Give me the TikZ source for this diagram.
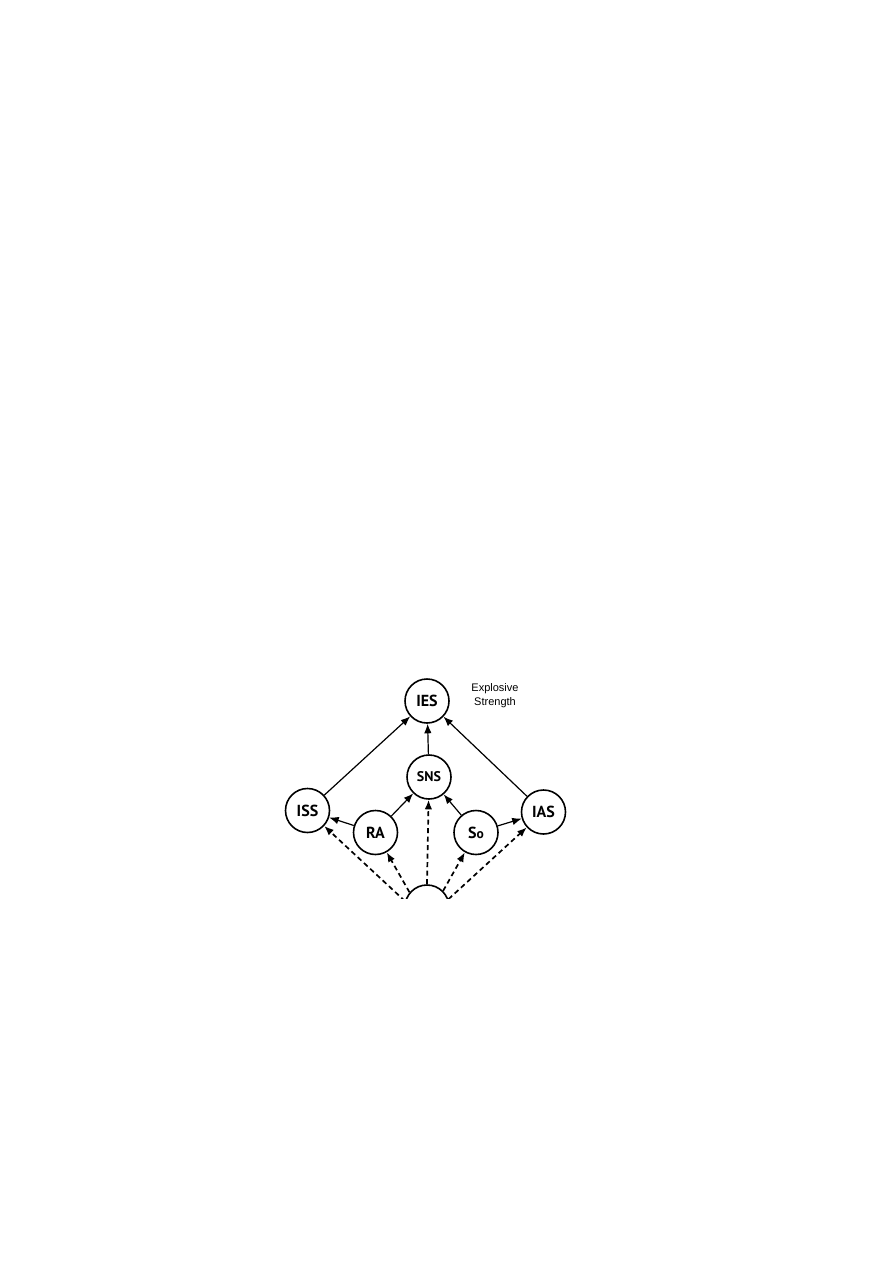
\documentclass[tikz,border=0pt]{standalone}
\usepackage{fontspec}
\newfontfamily\labfont{PT Sans}
\newfontfamily\expfont{Liberation Sans}
\usetikzlibrary{arrows.meta}
\begin{document}
\begin{tikzpicture}[x=1pt,y=-1pt,
  circ/.style={circle,draw,line width=1.6pt,minimum size=44pt,inner sep=0pt,font=\labfont\bfseries\fontsize{16}{18}\selectfont},
  solidarr/.style={line width=1.2pt,-{Latex[length=9.5pt,width=7.5pt]}},
  dasharr/.style={line width=1.7pt,dash pattern=on 5pt off 3.5pt,-{Latex[length=9.5pt,width=7.5pt]}}]
\useasboundingbox (0,0) rectangle (893,1263);
\begin{scope}
\clip (270,660) rectangle (590,898);
\node[circ] (IES) at (427,701) {IES};
\node[circ,font=\labfont\bfseries\fontsize{14}{16}\selectfont] (SNS) at (429,777) {SNS};
\node[circ] (ISS) at (307.5,810.5) {ISS};
\node[circ] (RA) at (375.5,832.5) {RA};
\node[circ] (So) at (476,832.5) {S\fontsize{13.5}{16}\selectfont o};
\node[circ] (IAS) at (543.5,812) {IAS};
\node[circ] (B) at (427,907) {};
\node[font=\expfont\fontsize{11}{14}\selectfont,align=center] (lab) at (495,696) {Explosive\\Strength};
\draw[solidarr] (ISS) -- (IES);
\draw[solidarr] (SNS) -- (IES);
\draw[solidarr] (IAS) -- (IES);
\draw[solidarr] (RA) -- (SNS);
\draw[solidarr] (So) -- (SNS);
\draw[solidarr] (RA) -- (ISS);
\draw[solidarr] (So) -- (IAS);
\draw[dasharr] (B.165) -- (ISS);
\draw[dasharr] (B.140) -- (RA);
\draw[dasharr] (B.90) -- (SNS);
\draw[dasharr] (B.45) -- (So);
\draw[dasharr] (B.20) -- (IAS);
\end{scope}
\end{tikzpicture}
\end{document}
